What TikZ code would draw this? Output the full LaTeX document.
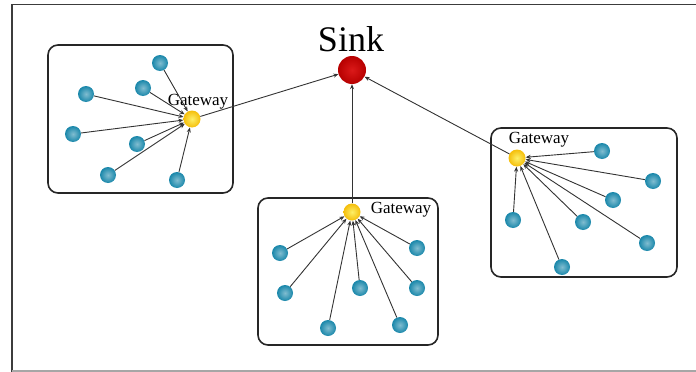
\documentclass[tikz,border=0pt]{standalone}
\usepackage{fontspec}
\setmainfont{Liberation Serif}
\usetikzlibrary{arrows.meta}
\definecolor{sensor}{RGB}{25,135,170}
\definecolor{gw}{RGB}{245,190,10}
\definecolor{sinkred}{RGB}{215,0,0}
\definecolor{frame}{RGB}{60,60,60}
\tikzset{
  sensor/.style={circle,minimum size=16pt,inner sep=0pt,shading=radial,inner color=sensor!55!white,outer color=sensor},
  gwnode/.style={circle,minimum size=17pt,inner sep=0pt,shading=radial,inner color=gw!40!yellow!60!white,outer color=gw},
  sinknode/.style={circle,minimum size=28pt,inner sep=0pt,shading=radial,inner color=sinkred!90!white,outer color=sinkred!85!black},
  cluster/.style={draw=black!85,line width=1.6pt,rounded corners=10pt},
  link/.style={draw=black!80,line width=0.9pt,-{Stealth[length=5pt,width=4pt]}},
  gwlabel/.style={font=\fontsize{17}{17}\selectfont,inner sep=0pt},
}
\begin{document}
\begin{tikzpicture}[x=1pt,y=-1pt]
\useasboundingbox (0,0) rectangle (696,372);
% outer frame
\draw[frame,line width=1.6pt] (12,372) -- (12,4.5) -- (696,4.5);
\draw[black!35,line width=1.2pt] (12,371) -- (696,371);
% clusters
\draw[cluster] (48,45) rectangle (233,193);
\draw[cluster] (258,198) rectangle (438,345);
\draw[cluster] (491,128) rectangle (677,277);
% sink
\node[sinknode] (sink) at (352,70) {};
\node[font=\fontsize{36}{36}\selectfont,inner sep=0pt] (sinklabel) at (351,39) {Sink};
% gateways
\node[gwnode] (g1) at (192,119) {};
\node[gwnode] (g2) at (352,212) {};
\node[gwnode] (g3) at (517,158) {};
\node[gwlabel] (l1) at (198,102) {Gateway};
\node[gwlabel] (l2) at (401,210) {Gateway};
\node[gwlabel] (l3) at (539,140) {Gateway};
% sensors cluster 1
\foreach \n/\x/\y in {a1/160/63,a2/143/88,a3/86/94,a4/73/134,a5/137/144,a6/108/175,a7/177/180}
  \node[sensor] (\n) at (\x,\y) {};
% sensors cluster 2
\foreach \n/\x/\y in {b1/280/253,b2/417/248,b3/285/293,b4/360/288,b5/417/288,b6/328/328,b7/400/325}
  \node[sensor] (\n) at (\x,\y) {};
% sensors cluster 3
\foreach \n/\x/\y in {c1/602/151,c2/653/181,c3/613/200,c4/513/220,c5/583/222,c6/647/243,c7/562/267}
  \node[sensor] (\n) at (\x,\y) {};
% links
\foreach \n in {a1,a2,a3,a4,a5,a6,a7} \draw[link] (\n) -- (g1);
\foreach \n in {b1,b2,b3,b4,b5,b6,b7} \draw[link] (\n) -- (g2);
\foreach \n in {c1,c2,c3,c4,c5,c6,c7} \draw[link] (\n) -- (g3);
\draw[link] (g1) -- (sink);
\draw[link] (g2) -- (sink);
\draw[link] (g3) -- (sink);
\end{tikzpicture}
\end{document}
